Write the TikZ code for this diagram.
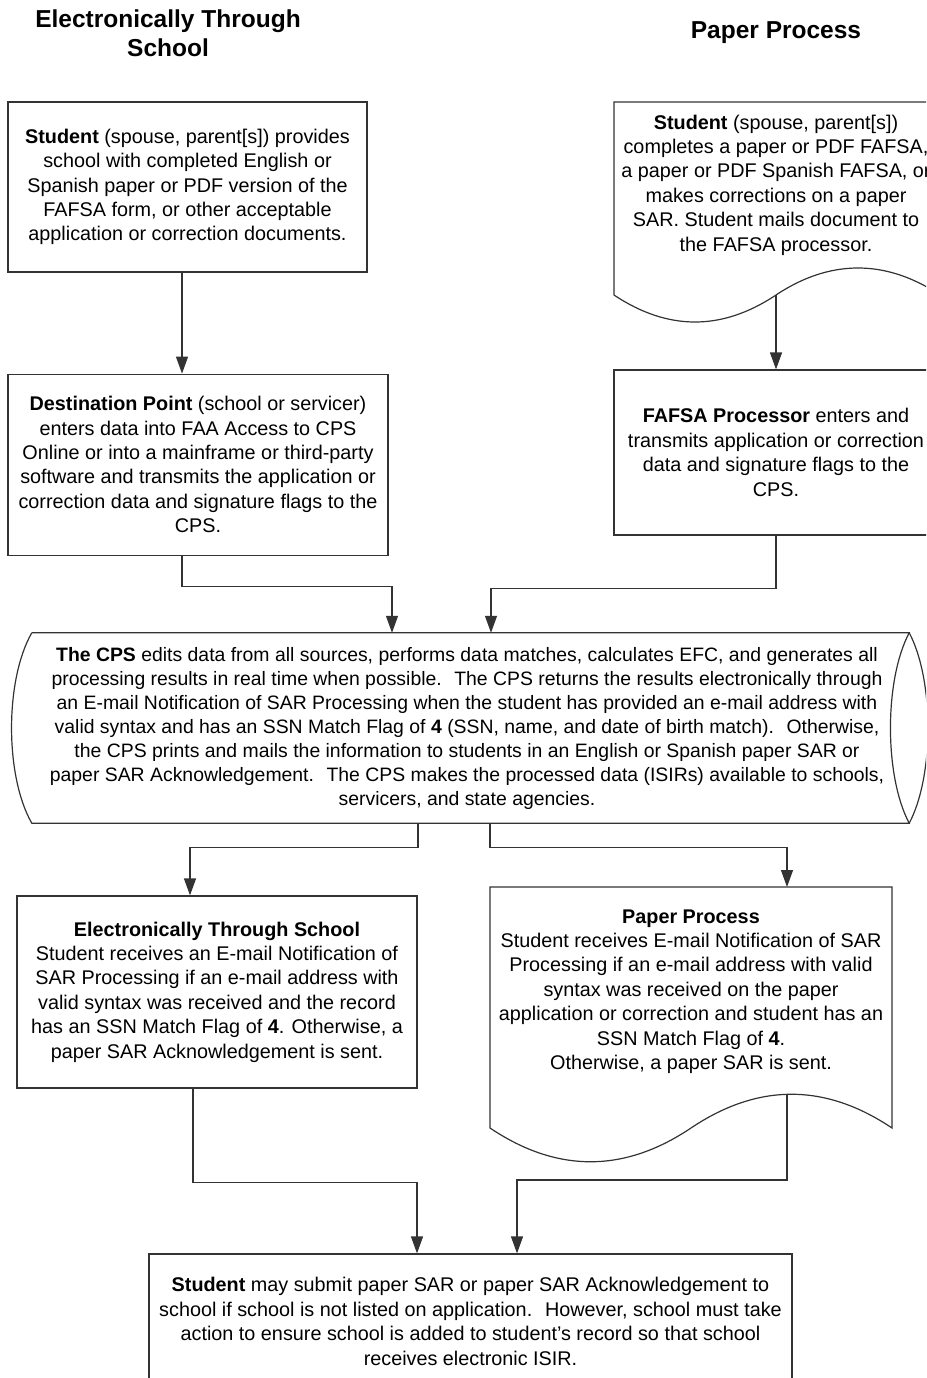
\documentclass[tikz,border=0pt]{standalone}
\usepackage{fontspec}
\setmainfont{Liberation Sans}
\usepackage{tikz}
\usetikzlibrary{positioning,arrows.meta}

\newcommand{\bodysize}{\fontsize{19.8pt}{24.4pt}\selectfont}

\begin{document}
\begin{tikzpicture}[
  x=1pt,y=-1pt,
  box/.style={draw=black!80,line width=1.2pt,align=center,inner sep=0pt,font=\bodysize},
  txt/.style={align=center,inner sep=0pt,font=\bodysize},
  title/.style={align=center,inner sep=0pt,font=\fontsize{24.5pt}{29pt}\selectfont\bfseries},
  outline/.style={draw=black!80,line width=1.2pt},
  arr/.style={outline,->},
  >={Triangle[length=17pt,width=12pt]}
]
  \useasboundingbox (0,0) rectangle (926,1378);
  \clip (0,0) rectangle (926,1378);

  % column headings
  \node[title] (hdl) at (168,33.5) {Electronically Through\\School};
  \node[title] (hdr) at (776,33) {Paper Process};

  % left column
  \node[box,minimum width=359pt,minimum height=170pt] (src1) at (187.5,187)
    {\textbf{Student} (spouse, parent[s]) provides\\school with completed English or\\Spanish paper or PDF version of the\\FAFSA form, or other acceptable\\application or correction documents.};
  \node[box,minimum width=380pt,minimum height=181pt,below=101pt of src1.south west,anchor=north west] (dest)
    {\textbf{Destination Point} (school or servicer)\\enters data into FAA Access to CPS\\Online or into a mainframe or third-party\\software and transmits the application or\\correction data and signature flags to the\\CPS.};

  % right column, document shape
  \coordinate (stu2w) at (776,295);
  \draw[outline] (614,102) -- (940,102) -- (940,295)
    .. controls (886,259) and (830,259) .. (stu2w)
    .. controls (722,331) and (668,331) .. (614,295) -- cycle;
  \node[txt] (stu2) at (776,185)
    {\textbf{Student} (spouse, parent[s])\\completes a paper or PDF FAFSA,\\a paper or PDF Spanish FAFSA, or\\makes corrections on a paper\\SAR. Student mails document to\\the FAFSA processor.};
  \node[box,minimum width=324pt,minimum height=165pt] (fafsa) at (776,452.5)
    {\textbf{FAFSA Processor} enters and\\transmits application or correction\\data and signature flags to the\\CPS.};

  % the CPS, stored data shape
  \node[txt,minimum width=877pt,minimum height=190pt,font=\fontsize{19.4pt}{24pt}\selectfont] (cps) at (467,728)
    {\textbf{The CPS} edits data from all sources, performs data matches, calculates EFC, and generates all\\
     processing results in real time when possible.~ The CPS returns the results electronically through\\
     an E-mail Notification of SAR Processing when the student has provided an e-mail address with\\
     valid syntax and has an SSN Match Flag of \textbf{4} (SSN, name, and date of birth match).~ Otherwise,\\
     the CPS prints and mails the information to students in an English or Spanish paper SAR or\\
     paper SAR Acknowledgement.~ The CPS makes the processed data (ISIRs) available to schools,\\
     servicers, and state agencies.};
  \draw[outline] ([xshift=3.5pt]cps.north west) -- ([xshift=3.5pt]cps.north east)
    .. controls +(-25,47) and +(-25,-47) .. ([xshift=3.5pt]cps.south east) -- ([xshift=3.5pt]cps.south west)
    .. controls +(-27,-47) and +(-27,47) .. ([xshift=3.5pt]cps.north west);
  \draw[outline] ([xshift=3.5pt]cps.north east) .. controls +(25,47) and +(25,-47) .. ([xshift=3.5pt]cps.south east);

  % results
  \node[box,minimum width=400pt,minimum height=192pt] (elec) at (217,992)
    {\textbf{Electronically Through School}\\Student receives an E-mail Notification of\\SAR Processing if an e-mail address with\\valid syntax was received and the record\\has an SSN Match Flag of \textbf{4}. Otherwise, a\\paper SAR Acknowledgement is sent.};

  \coordinate (paper2top) at (787,887);
  \coordinate (paper2w) at (787,1095);
  \draw[outline] (490,887) -- (892,887) -- (892,1128)
    .. controls (825,1083) and (758,1083) .. (691,1128)
    .. controls (624,1173) and (557,1173) .. (490,1128) -- cycle;
  \node[txt] (paper2) at (691,991.5)
    {\textbf{Paper Process}\\Student receives E-mail Notification of SAR\\Processing if an e-mail address with valid\\syntax was received on the paper\\application or correction and student has an\\SSN Match Flag of \textbf{4}.\\Otherwise, a paper SAR is sent.};

  \node[box,minimum width=643pt,minimum height=135pt] (stu3) at (470.5,1321.5)
    {\textbf{Student} may submit paper SAR or paper SAR Acknowledgement to\\school if school is not listed on application.~ However, school must take\\action to ensure school is added to student's record so that school\\receives electronic ISIR.};

  % connectors
  \draw[arr] ([xshift=-5.5pt]src1.south) -- ([xshift=-5.5pt]src1.south |- dest.north);
  \draw[arr] (stu2w) -- (stu2w |- fafsa.north);
  \draw[arr] ([xshift=-16pt]dest.south) -- ++(0,31) -| ([xshift=-75pt]cps.north);
  \draw[arr] (fafsa.south) -- ++(0,53) -| ([xshift=24pt]cps.north);
  \draw[arr] ([xshift=-49pt]cps.south) -- ++(0,24) -| ([xshift=-27pt]elec.north);
  \draw[arr] ([xshift=23pt]cps.south) -- ++(0,24) -| (paper2top);
  \draw[arr] ([xshift=-24pt]elec.south) -- ++(0,94) -| ([xshift=-53.5pt]stu3.north);
  \draw[arr] (paper2w) -- ++(0,85) -| ([xshift=46.5pt]stu3.north);
\end{tikzpicture}
\end{document}
